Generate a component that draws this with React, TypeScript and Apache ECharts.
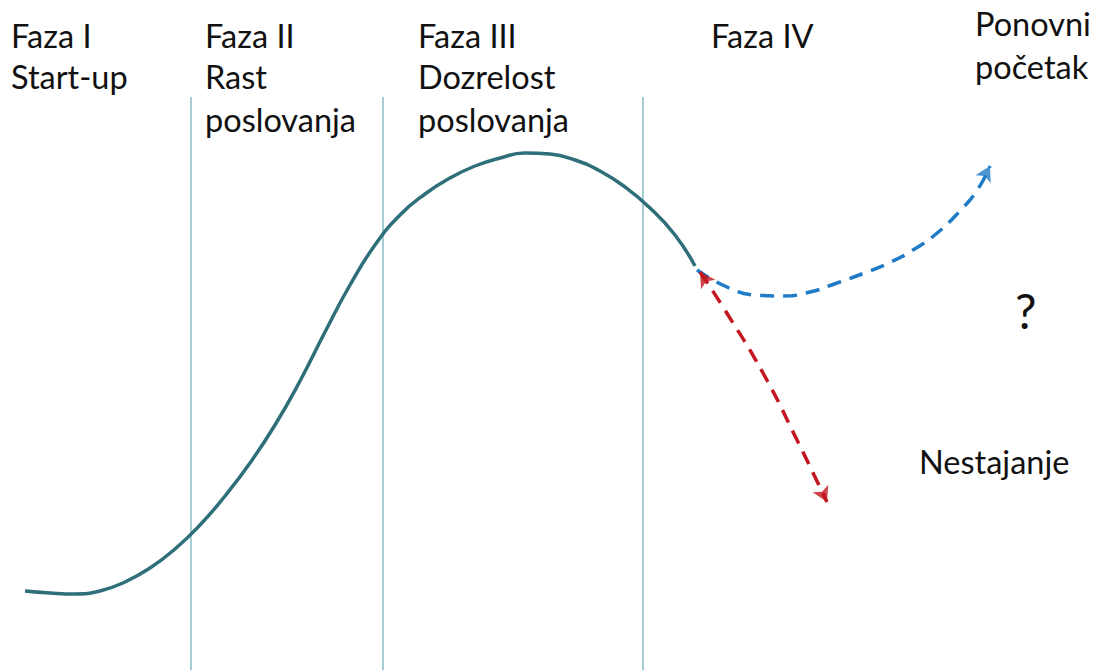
import React, { useEffect, useRef } from "react";
import * as echarts from "echarts";

// Teal lifecycle curve: x = time, y = level
const lifeX = [25, 50, 75, 100, 125, 150, 175, 200, 225, 250, 275, 300, 325, 350, 375, 400, 425, 450, 475, 500, 525, 550, 575, 600, 625, 650, 675, 695];
const lifeY = [79, 77, 76, 79, 88, 102, 121, 145, 174, 207, 245, 289, 338, 385, 425, 455, 476, 492, 504, 512, 517, 516, 510, 499, 483, 462, 435, 404];

// Blue dashed "Ponovni početak" branch
const restartX = [697, 727, 755, 783, 810, 837, 867, 891, 913, 936, 959, 978, 990];
const restartY = [400, 383, 375, 374, 378, 387, 398, 408, 420, 436, 458, 481, 504];

// Red dashed "Nestajanje" branch
const declineX = [700, 723, 763, 797, 827];
const declineY = [398, 363, 297, 230, 168];

// Phase boundaries
const dividerX = [191, 383, 643];
const dividerTop = 573;

const phaseLines = [
  ["Faza I", "Start-up"],
  ["Faza II", "Rast", "poslovanja"],
  ["Faza III", "Dozrelost", "poslovanja"],
  ["Faza IV"],
];
const restartLabel = ["Ponovni", "početak"];
const questionLabel = "?";
const declineLabel = "Nestajanje";

const TEAL = "#2f6f79";
const DIVIDER = "#86bcc6";
const BLUE = "#1f7bc6";
const RED = "#c3161f";

function zip(xs: number[], ys: number[]) {
  return xs.map((x, i) => [x, ys[i]]);
}

function arrowRotate(x0: number, y0: number, x1: number, y1: number) {
  const theta = (Math.atan2(x1 - x0, y1 - y0) * 180) / Math.PI;
  return -theta;
}

export default function App() {
  const ref = useRef<HTMLDivElement>(null);
  useEffect(() => {
    if (!ref.current) return;
    const chart = echarts.init(ref.current, undefined, { renderer: "svg" });
    const font = "Lato, 'Open Sans', sans-serif";
    const fs = 32.5;
    const off = 14;
    const texts: any[] = [];
    const phaseX = [11, 205, 418, 711];
    const baselines = [49, 90, 133];
    phaseLines.forEach((lines, i) => {
      lines.forEach((t, j) => {
        texts.push({
          type: "text",
          x: phaseX[i],
          y: baselines[j] - off,
          style: { text: t, fontSize: fs, fontFamily: font, fill: "#111", verticalAlign: "middle", align: "left" },
        });
      });
    });
    [37, 80].forEach((b, j) => {
      texts.push({
        type: "text",
        x: 975,
        y: b - off,
        style: { text: restartLabel[j], fontSize: fs, fontFamily: font, fill: "#111", verticalAlign: "middle", align: "left" },
      });
    });
    texts.push({
      type: "text",
      x: 1015,
      y: 310,
      style: { text: questionLabel, fontSize: 48, fontFamily: font, fill: "#111", verticalAlign: "middle", align: "left" },
    });
    texts.push({
      type: "text",
      x: 919,
      y: 475 - off,
      style: { text: declineLabel, fontSize: fs, fontFamily: font, fill: "#111", verticalAlign: "middle", align: "left" },
    });

    const n1 = restartX.length - 1;
    const n2 = declineX.length - 1;
    const dividerSeries = dividerX.map((x) => ({
      type: "line",
      data: [[x, 0], [x, dividerTop]],
      showSymbol: false,
      lineStyle: { color: DIVIDER, width: 1.5 },
      silent: true,
      z: 1,
    }));

    chart.setOption({
      animation: false,
      backgroundColor: "#ffffff",
      grid: { left: 0, right: 0, top: 0, bottom: 0 },
      xAxis: { type: "value", min: 0, max: 1093, show: false },
      yAxis: { type: "value", min: 0, max: 670, show: false },
      graphic: texts,
      series: [
        ...dividerSeries,
        {
          type: "line",
          data: zip(lifeX, lifeY),
          smooth: 0.5,
          showSymbol: false,
          lineStyle: { color: TEAL, width: 3.5 },
          z: 3,
        },
        {
          type: "line",
          data: zip(restartX, restartY),
          smooth: 0.5,
          showSymbol: false,
          lineStyle: { color: BLUE, width: 3.5, type: [14, 9] },
          z: 4,
        },
        {
          type: "line",
          data: zip(declineX, declineY),
          smooth: 0.5,
          showSymbol: false,
          lineStyle: { color: RED, width: 3.5, type: [14, 9] },
          z: 4,
        },
        {
          type: "scatter",
          symbol: "arrow",
          symbolSize: [13, 15],
          z: 5,
          data: [
            {
              value: [restartX[n1], restartY[n1]],
              symbolRotate: arrowRotate(restartX[n1 - 1], restartY[n1 - 1], restartX[n1], restartY[n1]),
              itemStyle: { color: BLUE },
            },
            {
              value: [declineX[n2], declineY[n2]],
              symbolRotate: arrowRotate(declineX[n2 - 1], declineY[n2 - 1], declineX[n2], declineY[n2]),
              itemStyle: { color: RED },
            },
            {
              value: [declineX[0], declineY[0]],
              symbolRotate: arrowRotate(declineX[1], declineY[1], declineX[0], declineY[0]),
              itemStyle: { color: RED },
            },
          ],
        },
      ],
    });
    return () => chart.dispose();
  }, []);
  return <div ref={ref} style={{ position: "absolute", left: 0, top: 0, width: 1093, height: 670 }} />;
}
